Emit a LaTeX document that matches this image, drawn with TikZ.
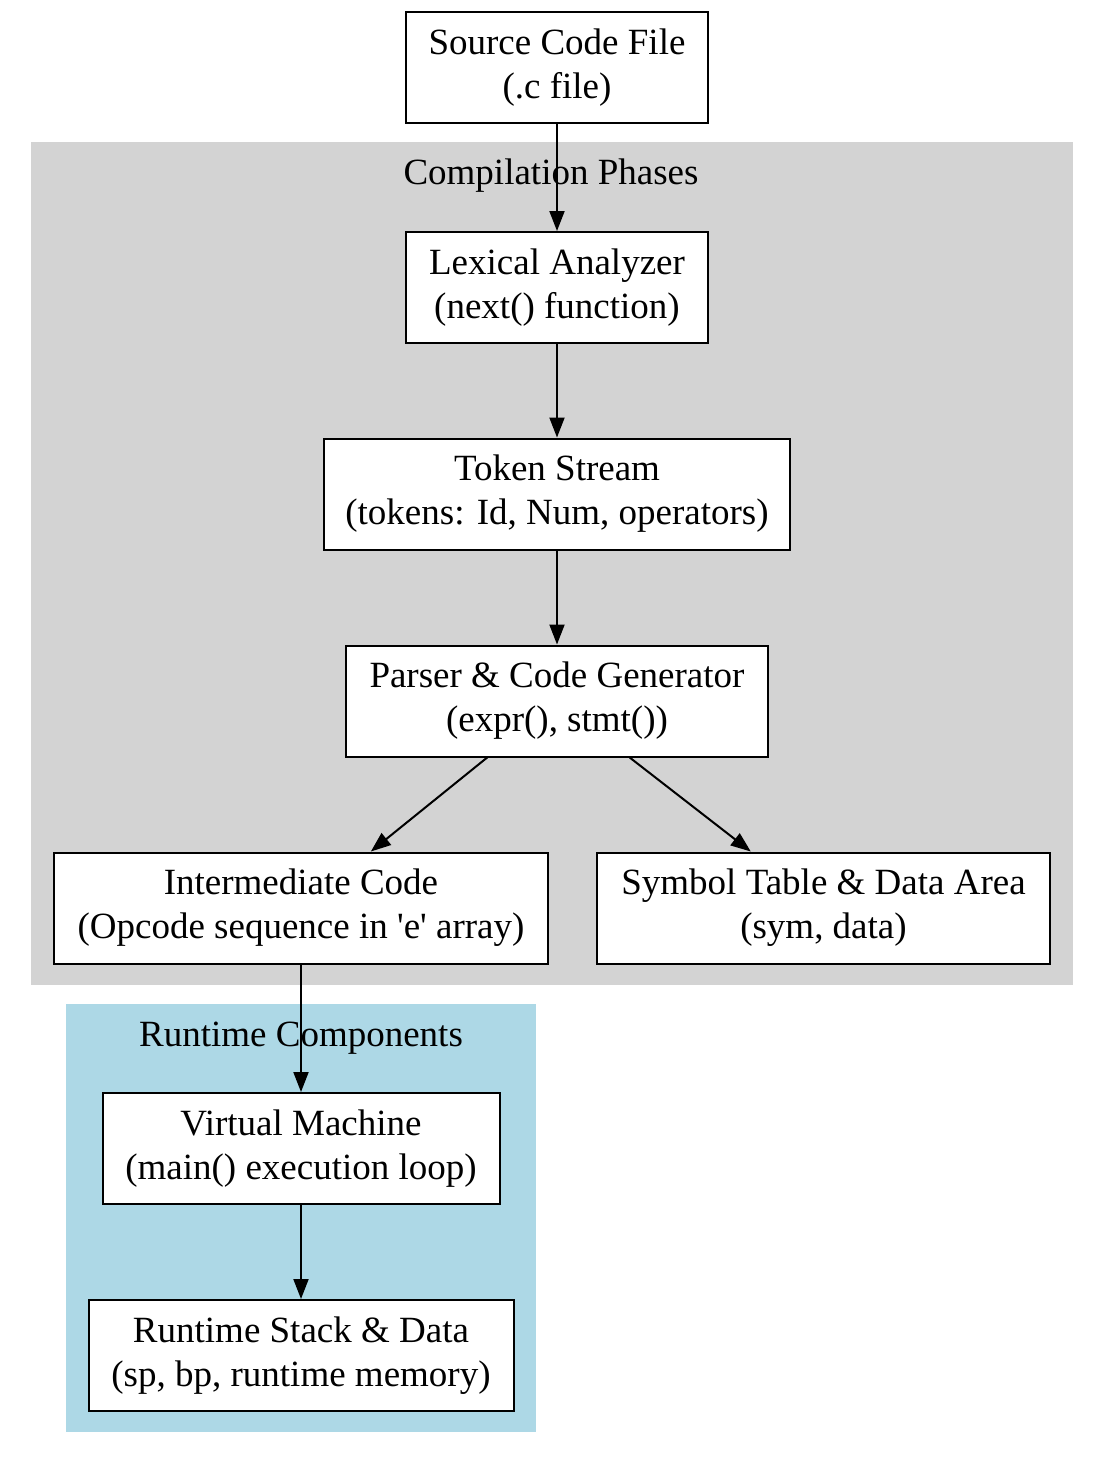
\documentclass[tikz,border=0pt]{standalone}
\usepackage{fontspec}
\setmainfont{Liberation Serif}
\usetikzlibrary{arrows.meta}
\definecolor{clustergray}{HTML}{D3D3D3}
\definecolor{clusterblue}{HTML}{ADD8E6}

\begin{document}
\begin{tikzpicture}[x=0.5pt, y=-0.5pt,
    box/.style={draw, line width=1pt, fill=white, align=center, inner sep=0pt,
        minimum height=55.5pt, font=\fontsize{18.5}{22}\selectfont},
    title/.style={font=\fontsize{18.5}{22}\selectfont},
    arr/.style={-{Triangle[length=10pt, width=7.5pt]}, line width=1pt}]
    \useasboundingbox (0,0) rectangle (1104,1464);

    % Clusters
    \fill[clustergray] (31,142) rectangle (1073,985);
    \fill[clusterblue] (66,1004) rectangle (536,1432);
    \node[title] (compile) at (551,176) {Compilation Phases};
    \node[title] (runtime) at (301,1038) {Runtime Components};

    % Compilation steps
    \node[box, minimum width=151pt] (src) at (557,67.5) {Source Code File\\(.c file)};
    \node[box, minimum width=151pt] (lex) at (557,287.5) {Lexical Analyzer\\(next() function)};
    \node[box, minimum width=233pt] (tok) at (557,494) {Token Stream\\(tokens: Id, Num, operators)};
    \node[box, minimum width=211pt] (parse) at (557,701) {Parser \& Code Generator\\(expr(), stmt())};
    \node[box, minimum width=247pt] (ir) at (301,908) {Intermediate Code\\(Opcode sequence in \textquotesingle e\textquotesingle{} array)};
    \node[box, minimum width=226.5pt] (sym) at (823.5,908) {Symbol Table \& Data Area\\(sym, data)};

    % Runtime
    \node[box, minimum width=198.5pt] (vm) at (301,1148.5) {Virtual Machine\\(main() execution loop)};
    \node[box, minimum width=212.5pt] (stack) at (301,1355.5) {Runtime Stack \& Data\\(sp, bp, runtime memory)};

    % Edges
    \draw[arr] (src) -- (lex);
    \draw[arr] (lex) -- (tok);
    \draw[arr] (tok) -- (parse);
    \draw[arr] (parse) -- (ir);
    \draw[arr] (parse) -- (sym);
    \draw[arr] (ir) -- (vm);
    \draw[arr] (vm) -- (stack);
\end{tikzpicture}
\end{document}
